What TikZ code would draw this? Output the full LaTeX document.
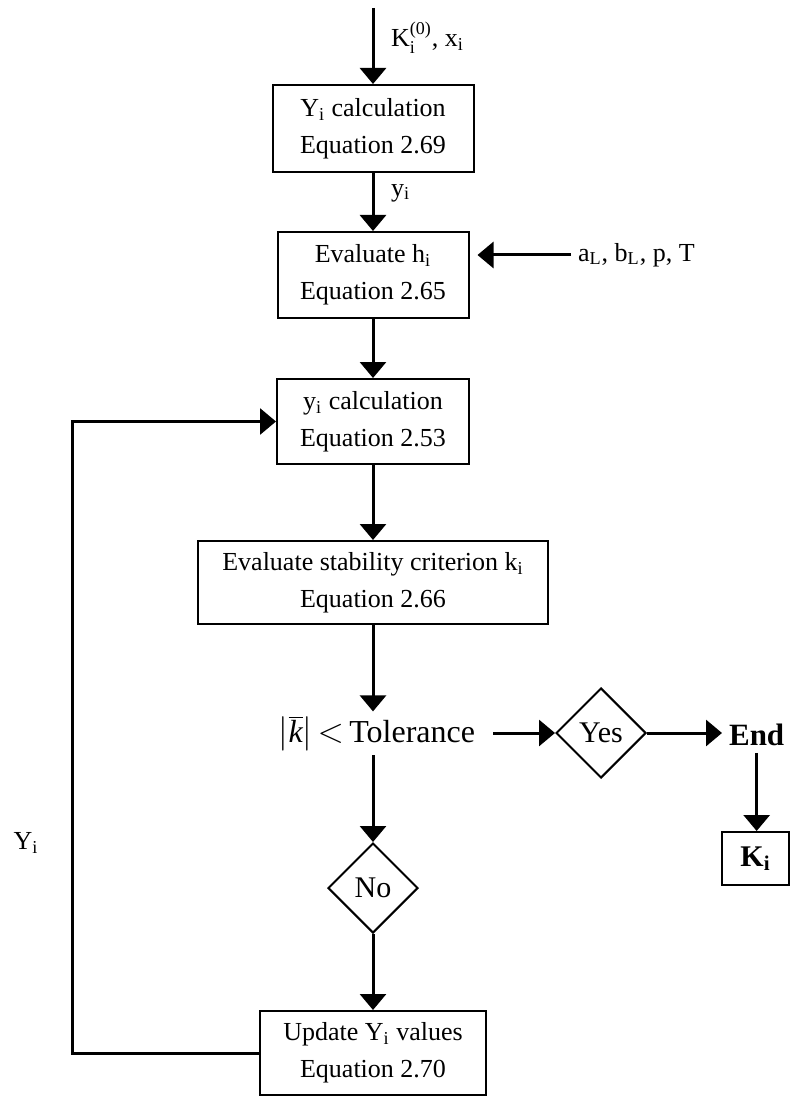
\documentclass[tikz,border=0pt]{standalone}
\usepackage{fontspec}
\setmainfont{Liberation Serif}
\usetikzlibrary{arrows.meta,shapes.geometric}
\newcommand{\smalltxt}[1]{\mbox{\fontsize{9}{9}\selectfont #1}}
\begin{document}
\begin{tikzpicture}[x=0.5pt, y=-0.5pt,
  box/.style={draw, rectangle, line width=1pt, align=center, inner sep=0pt, font=\fontsize{13}{18.5}\selectfont},
  choice/.style={draw, diamond, line width=1pt, inner sep=0pt, minimum width=45pt, minimum height=45pt, font=\fontsize{15}{16}\selectfont},
  flow/.style={line width=1.5pt, -{Triangle[width=13pt, length=8pt]}},
  lbl/.style={font=\fontsize{13}{16}\selectfont}]
\useasboundingbox (0,0) rectangle (791,1096);
% main column
\node (calcY)[box, minimum width=100.5pt, minimum height=43.5pt] at (373,128.5) {Y\textsubscript{i} calculation\\Equation 2.69};
\node (evalH)[box, minimum width=95.5pt, minimum height=43pt] at (373,275) {Evaluate h\textsubscript{i}\\Equation 2.65};
\node (calcy)[box, minimum width=96pt, minimum height=42.5pt] at (373,421.5) {y\textsubscript{i} calculation\\Equation 2.53};
\node (evalK)[box, minimum width=175pt, minimum height=41.5pt] at (373,582.5) {Evaluate stability criterion k\textsubscript{i}\\Equation 2.66};
\node (tol)[anchor=base, inner sep=2pt, font=\fontsize{16}{18}\selectfont] at (377,742) {$\bigl|\overline{\textit{k}}\bigr|$\,$<$\,Tolerance};
\node (yes)[choice] at (601,733) {Yes};
\node (fin)[anchor=west, font=\bfseries\fontsize{15.5}{18}\selectfont] at (722,735) {End};
\node (Kres)[box, font=\bfseries\fontsize{15}{18}\selectfont, minimum width=33.5pt, minimum height=26.5pt] at (755.5,858.5) {K\textsubscript{i}};
\node (no)[choice] at (373,888) {No};
\node (update)[box, minimum width=113pt, minimum height=42pt] at (373,1053) {Update Y\textsubscript{i} values\\Equation 2.70};
% inputs and labels
\coordinate (start) at (373,8);
\node (kin)[lbl, anchor=west] at (384,38) {K$_{\smalltxt{i}}^{\smalltxt{(0)}}$, x\textsubscript{i}};
\node (ylbl)[lbl, anchor=west] at (384,193) {y\textsubscript{i}};
\node (params)[lbl, anchor=west] at (571,255) {a\textsubscript{L}, b\textsubscript{L}, p, T};
\node (Ylbl)[lbl] at (26,843) {Y\textsubscript{i}};
% connectors
\draw[flow] (start) -- (calcY);
\draw[flow] (calcY) -- (evalH);
\draw[flow, shorten >=4pt] (params.west) -- (params.west -| evalH.east);
\draw[flow] (evalH) -- (calcy);
\draw[flow] (calcy) -- (evalK);
\draw[flow] (evalK) -- (evalK |- tol.north);
\draw[flow, shorten <=7pt] (tol.east |- yes) -- (yes);
\draw[flow] (yes) -- (yes -| fin.west);
\draw[flow] (fin) -- (fin |- Kres.north);
\draw[flow] (no |- tol.south) -- (no);
\draw[flow] (no) -- (update);
\draw[flow] (update.west) -- ++(-187,0) |- (calcy.west);
\end{tikzpicture}
\end{document}
